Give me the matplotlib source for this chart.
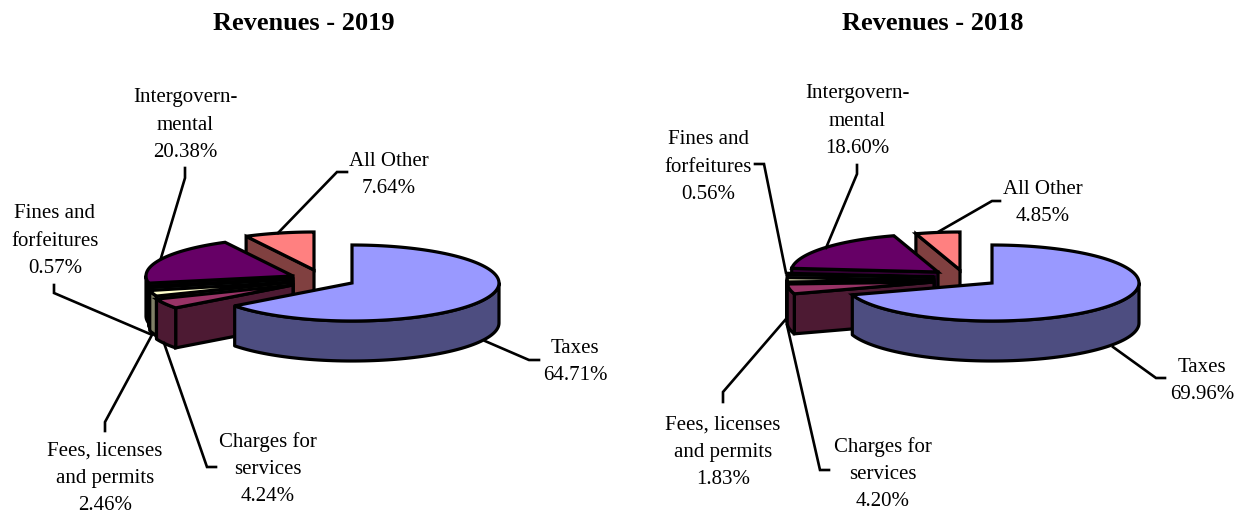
import numpy as np
import matplotlib
matplotlib.use('Agg')
import matplotlib.pyplot as plt
from matplotlib.patches import Polygon

plt.rcParams['font.family'] = ['Liberation Serif', 'DejaVu Sans']

# Slice names, clockwise from 12 o'clock
categories = ['Taxes', 'Charges for\nservices', 'Fees, licenses\nand permits',
              'Fines and\nforfeitures', 'Intergovern-\nmental', 'All Other']
values_2019 = [64.71, 4.24, 2.46, 0.57, 20.38, 7.64]
values_2018 = [69.96, 4.20, 1.83, 0.56, 18.60, 4.85]

# Excel default palette, top faces and the darker sides
top_colors = ['#9999FF', '#993366', '#FFFFCC', '#CCFFFF', '#660066', '#FF8080']
side_colors = ['#4D4D80', '#4D1A33', '#808066', '#668080', '#330033', '#804040']

# Pie shape in pixels
RX = 147
RY = 38
DEPTH = 40

# Where each exploded slice has its point
apex_2019 = [(352, 283), (293, 285), (293, 282), (293, 279), (293, 276), (314, 270)]
apex_2018 = [(992, 283), (934, 282), (934, 280), (934, 277), (938, 272), (960, 270)]

# Label centres
label_pos_2019 = [(575, 362), (268, 469), (105, 478), (55, 241), (185, 125), (389, 175)]
label_pos_2018 = [(1202, 381), (883, 474), (723, 452), (708, 167), (857, 121), (1043, 203)]

# Leader lines
leaders_2019 = [[(485, 341), (529, 360), (539, 360)],
                [(164, 343), (207, 467), (216, 467)],
                [(153, 333), (105, 422), (105, 431)],
                [(54, 285), (54, 293), (150, 334)],
                [(185, 168), (185, 178), (161, 258)],
                [(347, 172), (337, 172), (278, 233)]]
leaders_2018 = [[(1113, 347), (1156, 378), (1165, 378)],
                [(787, 325), (820, 470), (829, 470)],
                [(786, 319), (723, 392), (723, 402)],
                [(755, 164), (764, 164), (786, 273)],
                [(857, 165), (857, 174), (826, 248)],
                [(1000, 201), (992, 201), (938, 232)]]

fig = plt.figure(figsize=(12.36, 5.14), dpi=100, facecolor='white')
ax = fig.add_axes([0, 0, 1, 1])
ax.set_xlim(0, 1236)
ax.set_ylim(514, 0)
ax.axis('off')


def rim(apex, angles):
    # angles are degrees clockwise from the top of the pie
    t = np.radians(angles)
    return np.column_stack([apex[0] + RX * np.sin(t), apex[1] - RY * np.cos(t)])


def draw_slice(apex, start, end, top, side):
    lw = 2.3
    # cut face towards the viewer
    if np.sin(np.radians(start)) < 0:
        p = rim(apex, [start])[0]
        face = [apex, p, (p[0], p[1] + DEPTH), (apex[0], apex[1] + DEPTH)]
        ax.add_patch(Polygon(face, fc=side, ec='black', lw=lw, joinstyle='miter'))
    # outer wall, only the front half of the rim shows
    a0, a1 = max(start, 90), min(end, 270)
    if a1 > a0:
        arc = rim(apex, np.linspace(a0, a1, 80))
        wall = np.vstack([arc, arc[::-1] + [0, DEPTH]])
        ax.add_patch(Polygon(wall, fc=side, ec='black', lw=lw, joinstyle='round'))
    # top face
    arc = rim(apex, np.linspace(start, end, 120))
    ax.add_patch(Polygon(np.vstack([[apex], arc]), fc=top, ec='black', lw=lw, joinstyle='miter'))


def draw_pie(title, title_x, values, apexes, label_pos, leaders):
    ax.text(title_x, 23, title, fontsize=19, fontweight='bold', ha='center', va='center')
    for pts in leaders:
        xs, ys = zip(*pts)
        ax.plot(xs, ys, color='black', lw=1.9, solid_joinstyle='miter')
    edges = np.concatenate([[0], np.cumsum(values)]) / np.sum(values) * 360
    # back slices first, Taxes ends up on top
    for i in range(len(values) - 1, -1, -1):
        draw_slice(apexes[i], edges[i], edges[i + 1], top_colors[i], side_colors[i])
    for name, v, pos in zip(categories, values, label_pos):
        ax.text(pos[0], pos[1], f'{name}\n{v:.2f}%', fontsize=15, ha='center', va='center',
                linespacing=1.58)


draw_pie('Revenues - 2019', 304, values_2019, apex_2019, label_pos_2019, leaders_2019)
draw_pie('Revenues - 2018', 933, values_2018, apex_2018, label_pos_2018, leaders_2018)

fig.savefig('out.png', dpi=100)
